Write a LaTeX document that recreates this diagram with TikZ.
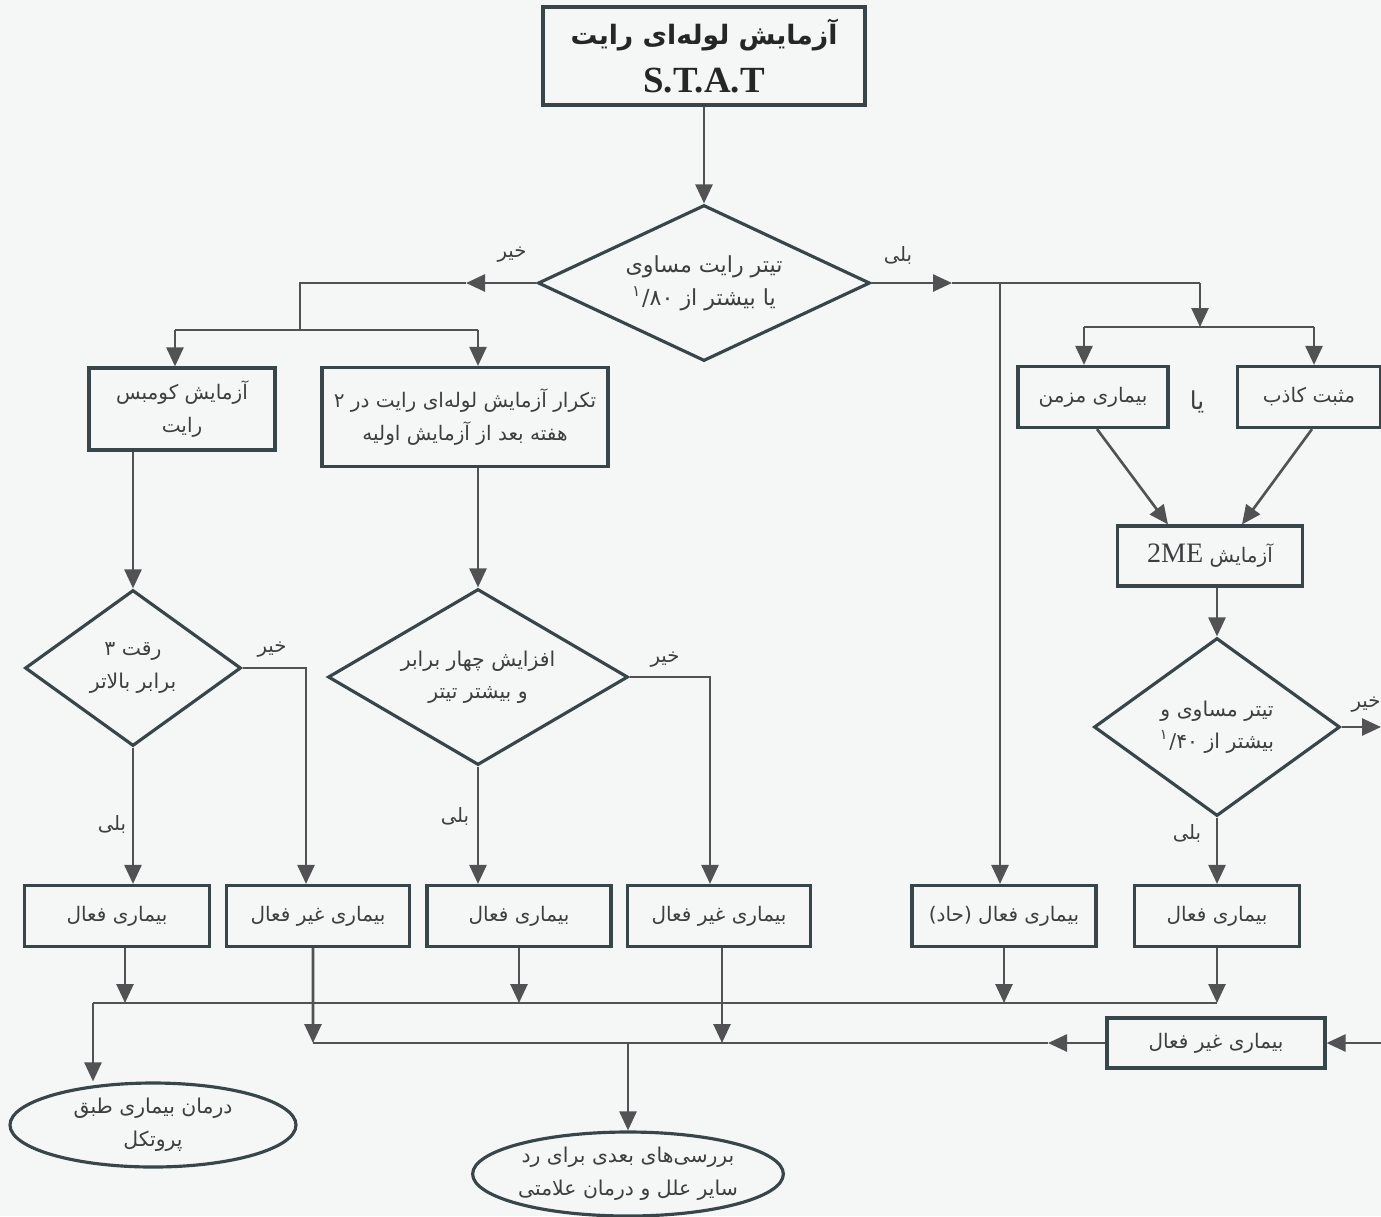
\documentclass[tikz,border=0pt]{standalone}
\usepackage{fontspec}
\setmainfont{Liberation Serif}
\newfontfamily\farsi[Script=Arabic]{DejaVu Sans}
\TeXXeTstate=1
\usetikzlibrary{shapes.geometric, arrows.meta, positioning}
\newcommand{\frc}[1]{\beginL\hbox{\textsuperscript{۱}}\hbox{/}\hbox{#1}\endL}
\definecolor{ink}{RGB}{62,62,64}
\definecolor{wire}{RGB}{82,82,84}
\definecolor{boxline}{RGB}{56,70,74}
\definecolor{paper}{RGB}{245,247,246}
\tikzset{
  box/.style={draw=boxline, line width=0.9pt, fill=paper, text=ink, align=center, inner sep=0pt,
    font=\farsi\fontsize{5.7}{9.4}\selectfont},
  dia/.style={diamond, draw=boxline, line width=0.9pt, fill=paper, inner sep=0pt},
  dtxt/.style={align=center, text=ink, inner sep=0pt, font=\farsi\fontsize{5.8}{9.2}\selectfont},
  oval/.style={ellipse, draw=boxline, line width=0.9pt, fill=paper, text=ink, align=center, inner sep=0pt,
    font=\farsi\fontsize{5.8}{9.4}\selectfont},
  yesno/.style={text=ink, inner sep=0pt, font=\farsi\fontsize{5.6}{6}\selectfont}
}
\begin{document}
\begin{tikzpicture}[x=0.1mm, y=-0.1mm, >={Triangle[length=1.9mm, width=1.7mm]}, wire/.style={draw=wire, line width=0.75pt}]
  \fill[paper] (0,0) rectangle (1381,1216);
  \useasboundingbox (0,0) rectangle (1381,1216);

  \node[box, minimum width=32.2mm, minimum height=9.8mm, font=\farsi\fontsize{7.6}{10.4}\selectfont\bfseries, text=black!85]
    (start) at (704,56) {\beginR آزمایش لوله‌ای رایت\endR\\[1.2mm]{\normalfont\bfseries\fontsize{10.5}{11}\selectfont S.T.A.T}};
  \node[dia, minimum width=33.2mm, minimum height=15.6mm,
    label={[dtxt, font=\farsi\fontsize{6.3}{9.4}\selectfont]center:{\beginR تیتر رایت مساوی\endR\\\beginR یا بیشتر از \frc{۸۰}\endR}}]
    (d1) at (704,283) {};

  \node[box, minimum width=18.6mm, minimum height=8.2mm] (kumbs) at (182,409) {\beginR آزمایش کومبس\endR\\\beginR رایت\endR};
  \node[box, minimum width=28.6mm, minimum height=9.9mm] (repeat) at (465,417) {\beginR تکرار آزمایش لوله‌ای رایت در ۲\endR\\\beginR هفته بعد از آزمایش اولیه\endR};

  \node[dia, minimum width=21.6mm, minimum height=15.6mm,
    label={[dtxt]center:{\beginR رقت ۳\endR\\\beginR برابر بالاتر\endR}}] (d2) at (133,668) {};
  \node[dia, minimum width=30mm, minimum height=17.6mm,
    label={[dtxt]center:{\beginR افزایش چهار برابر\endR\\\beginR و بیشتر تیتر\endR}}] (d3) at (478,677) {};

  \node[box, minimum width=15mm, minimum height=6.1mm] (chronic) at (1093,397) {\beginR بیماری مزمن\endR};
  \node[box, minimum width=14.3mm, minimum height=6.1mm] (falsepos) at (1309,397) {\beginR مثبت کاذب\endR};
  \node[dtxt, font=\farsi\fontsize{7}{8}\selectfont] (or) at (1197,402) {\beginR یا\endR};
  \node[box, minimum width=18.5mm, minimum height=6mm] (me2) at (1210,556) {\beginR آزمایش \beginL{\normalfont\fontsize{8}{9}\selectfont 2ME}\endL\endR};
  \node[dia, minimum width=24.6mm, minimum height=17.8mm,
    label={[dtxt]center:{\beginR تیتر مساوی و\endR\\\beginR بیشتر از \frc{۴۰}\endR}}] (d4) at (1217,727) {};

  \node[box, minimum width=18.5mm, minimum height=6.1mm] (c1) at (117,916) {\beginR بیماری فعال\endR};
  \node[box, minimum width=18.3mm, minimum height=6.1mm] (c2) at (318,916) {\beginR بیماری غیر فعال\endR};
  \node[box, minimum width=18.4mm, minimum height=6.1mm] (c3) at (519,916) {\beginR بیماری فعال\endR};
  \node[box, minimum width=18.3mm, minimum height=6.1mm] (c4) at (719,916) {\beginR بیماری غیر فعال\endR};
  \node[box, minimum width=18.4mm, minimum height=6.1mm] (c5) at (1004,916) {\beginR بیماری فعال (حاد)\endR};
  \node[box, minimum width=16.5mm, minimum height=6.1mm] (c6) at (1217,916) {\beginR بیماری فعال\endR};

  \node[box, minimum width=21.8mm, minimum height=5mm] (inact) at (1216,1043) {\beginR بیماری غیر فعال\endR};
  \node[oval, minimum width=28.6mm, minimum height=8.4mm] (treat) at (153,1125) {\beginR درمان بیماری طبق\endR\\\beginR پروتکل\endR};
  \node[oval, minimum width=30mm, minimum height=8.4mm] (further) at (628,1174) {\beginR بررسی‌های بعدی برای رد\endR\\\beginR سایر علل و درمان علامتی\endR};

  \node[yesno] (no1) at (512,255) {\beginR خیر\endR};
  \node[yesno] (yes1) at (898,255) {\beginR بلی\endR};
  \node[yesno] (no2) at (272,650) {\beginR خیر\endR};
  \node[yesno] (yes2) at (112,824) {\beginR بلی\endR};
  \node[yesno] (no3) at (665,660) {\beginR خیر\endR};
  \node[yesno] (yes3) at (455,816) {\beginR بلی\endR};
  \node[yesno] (yes4) at (1187,833) {\beginR بلی\endR};
  \node[yesno] (no4) at (1366,705) {\beginR خیر\endR};

  \coordinate (nL) at (466,283);
  \coordinate (jL) at (300,330);
  \coordinate (jA) at (175,330);
  \coordinate (jB) at (478,330);
  \coordinate (nR) at (952,283);
  \coordinate (jC) at (1000,283);
  \coordinate (jR) at (1200,283);
  \coordinate (jD) at (1200,327);
  \coordinate (jD1) at (1084,327);
  \coordinate (jD2) at (1314,327);
  \coordinate (outR) at (1381,727);
  \coordinate (inR) at (1381,1043);
  \coordinate (l1L) at (93,1003);
  \coordinate (l2L) at (313,1043);
  \coordinate (nB) at (1048,1043);

  \draw[wire, ->] (start) -- (d1);
  \draw[wire, ->] (d1.west) -- (nL);
  \draw[wire] (nL) -| (jL);
  \draw[wire] (jA) -- (jB);
  \draw[wire, ->] (jA) -- (jA |- kumbs.north);
  \draw[wire, ->] (jB) -- (jB |- repeat.north);
  \draw[wire, ->] (kumbs.south -| d2.north) -- (d2.north);
  \draw[wire, ->] (repeat.south -| d3.north) -- (d3.north);
  \draw[wire, ->] (d2.south) -- (d2.south |- c1.north);
  \draw[wire, ->] (d2.east) -| ([xshift=-1.2mm]c2.north);
  \draw[wire, ->] (d3.south) -- (d3.south |- c3.north);
  \draw[wire, ->] (d3.east) -| ([xshift=-0.9mm]c4.north);

  \draw[wire, ->] (d1.east) -- (nR);
  \draw[wire] (nR) -- (jR);
  \draw[wire, ->] (jC) -- (jC |- c5.north);
  \draw[wire, ->] (jR) -- (jD);
  \draw[wire] (jD1) -- (jD2);
  \draw[wire, ->] (jD1) -- (jD1 |- chronic.north);
  \draw[wire, ->] (jD2) -- (jD2 |- falsepos.north);
  \draw[wire, ->] ([xshift=0.4mm]chronic.south) -- ([xshift=-4.2mm]me2.north);
  \draw[wire, ->] ([xshift=0.3mm]falsepos.south) -- ([xshift=3.2mm]me2.north);
  \draw[wire, ->] (me2.south -| d4.north) -- (d4.north);
  \draw[wire, ->] (d4.east) -- (outR);
  \draw[wire, ->] (d4.south) -- (c6.north);

  \draw[wire] (l1L) -- (c6.south |- l1L);
  \draw[wire, ->] ([xshift=0.8mm]c1.south) -- ([xshift=0.8mm]c1.south |- l1L);
  \draw[wire, ->] (c3.south) -- (c3.south |- l1L);
  \draw[wire, ->] (c5.south) -- (c5.south |- l1L);
  \draw[wire, ->] (c6.south) -- (c6.south |- l1L);
  \draw[wire, ->] (l1L) -- (l1L |- treat.north);
  \draw[wire, ->] ([xshift=-0.5mm]c2.south) -- (l2L);
  \draw[wire, ->] ([xshift=0.3mm]c4.south) -- ([xshift=0.3mm]c4.south |- l2L);
  \draw[wire, ->] (inR) -- (inact.east);
  \draw[wire, ->] (inact.west) -- (nB);
  \draw[wire] (nB) -- (l2L);
  \draw[wire, ->] (further.north |- l2L) -- (further.north);
\end{tikzpicture}
\end{document}
